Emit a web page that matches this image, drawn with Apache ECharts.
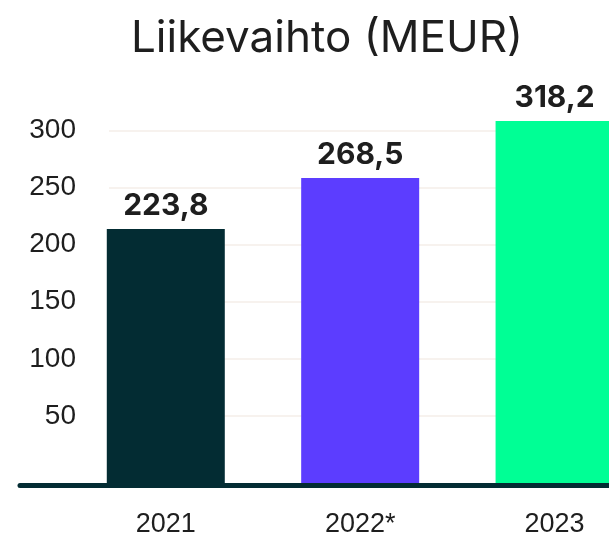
<!DOCTYPE html>
<html><head><meta charset="utf-8">
<script src="https://cdn.jsdelivr.net/npm/echarts@6/dist/echarts.min.js"></script>
<style>html,body{margin:0;padding:0;background:#fff}#c{width:609px;height:539px}</style>
</head><body><div id="c"></div>
<script>
const title = 'Liikevaihto (MEUR)';
const categories = ['2021', '2022*', '2023'];
const values = [223.8, 268.5, 318.2];
const barColors = ['#032c33', '#5c3dff', '#00ff95'];
const yTickLabels = [50, 100, 150, 200, 250, 300];

const dark = '#032c33';
const textCol = '#1e1e1e';
const chart = echarts.init(document.getElementById('c'), null, {renderer: 'canvas'});

chart.setOption({
  animation: false,
  backgroundColor: '#ffffff',
  title: {
    text: title, left: 322, top: 12, textAlign: 'center',
    textStyle: {fontFamily: 'Inter', fontWeight: 'normal', fontSize: 44, color: textCol}
  },
  grid: [
    // 0: gridlines + y labels
    {left: 109, right: 0, top: 130.3, bottom: 123},
    // 1: bars, category labels, baseline
    {left: 20, right: 0, top: 84.5, bottom: 53.5}
  ],
  xAxis: [
    {gridIndex: 0, type: 'value', show: false, min: 0, max: 1},
    {gridIndex: 1, type: 'value', min: -0.75, max: 2.28, z: 6,
     axisLine: {show: true, onZero: false, lineStyle: {color: dark, width: 5}},
     axisTick: {show: false}, splitLine: {show: false},
     axisLabel: {
       customValues: categories.map((c, i) => i),
       formatter: v => categories[Math.round(v)],
       margin: 26, fontSize: 27, color: textCol, fontFamily: 'Liberation Sans'
     }}
  ],
  yAxis: [
    {gridIndex: 0, type: 'value', min: yTickLabels[0], max: yTickLabels[yTickLabels.length - 1],
     interval: yTickLabels[1] - yTickLabels[0],
     axisLine: {show: false}, axisTick: {show: false},
     axisLabel: {margin: 33, fontSize: 28, color: textCol, fontFamily: 'Liberation Sans'},
     splitLine: {show: true, lineStyle: {color: '#f7f2ee', width: 2}}},
    {gridIndex: 1, type: 'value', min: 0, max: 350, show: false, splitLine: {show: false}}
  ],
  series: [{
    type: 'bar', xAxisIndex: 1, yAxisIndex: 1, barWidth: 118, z: 3,
    data: values.map((v, i) => ({value: [i, v], itemStyle: {color: barColors[i]}})),
    label: {
      show: true, position: 'top', distance: 8,
      fontFamily: 'Inter', fontWeight: 'bold', fontSize: 30, color: textCol,
      formatter: p => p.value[1].toFixed(1).replace('.', ',')
    }
  }]
});
</script></body></html>
